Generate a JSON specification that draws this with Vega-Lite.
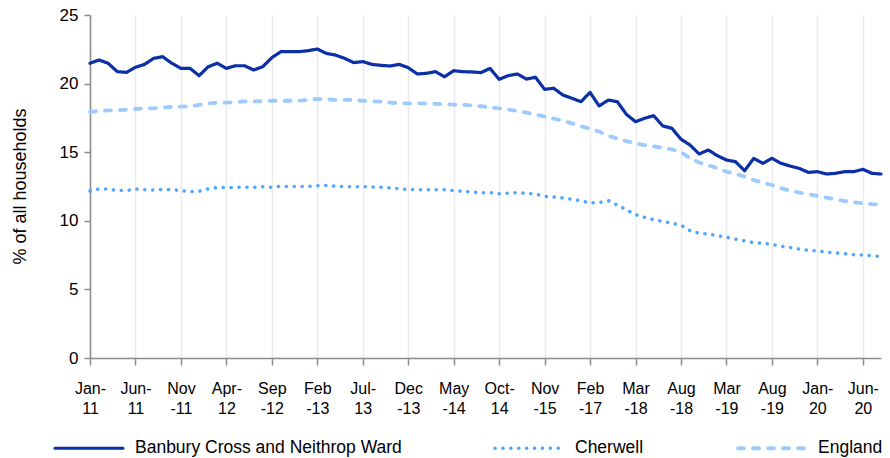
{
  "$schema": "https://vega.github.io/schema/vega-lite/v6.json",
  "width": 791,
  "height": 343,
  "autosize": "none",
  "padding": {"left": 90, "top": 15, "right": 9, "bottom": 100},
  "background": "white",
  "config": {
    "view": {"stroke": null},
    "font": "Liberation Sans",
    "axis": {"labelFont": "Liberation Sans", "titleFont": "Liberation Sans", "labelColor": "#000000", "titleColor": "#000000"}
  },
  "data": {
    "values": [
      {"i":0,"Banbury Cross and Neithrop Ward":21.48,"Cherwell":12.17,"England":17.95},
      {"i":1,"Banbury Cross and Neithrop Ward":21.72,"Cherwell":12.32,"England":18.0},
      {"i":2,"Banbury Cross and Neithrop Ward":21.48,"Cherwell":12.32,"England":18.05},
      {"i":3,"Banbury Cross and Neithrop Ward":20.87,"Cherwell":12.2,"England":18.05},
      {"i":4,"Banbury Cross and Neithrop Ward":20.82,"Cherwell":12.2,"England":18.1},
      {"i":5,"Banbury Cross and Neithrop Ward":21.19,"Cherwell":12.32,"England":18.15},
      {"i":6,"Banbury Cross and Neithrop Ward":21.4,"Cherwell":12.27,"England":18.2},
      {"i":7,"Banbury Cross and Neithrop Ward":21.84,"Cherwell":12.25,"England":18.2},
      {"i":8,"Banbury Cross and Neithrop Ward":21.96,"Cherwell":12.28,"England":18.25},
      {"i":9,"Banbury Cross and Neithrop Ward":21.48,"Cherwell":12.27,"England":18.3},
      {"i":10,"Banbury Cross and Neithrop Ward":21.11,"Cherwell":12.2,"England":18.32},
      {"i":11,"Banbury Cross and Neithrop Ward":21.11,"Cherwell":12.12,"England":18.35},
      {"i":12,"Banbury Cross and Neithrop Ward":20.58,"Cherwell":12.15,"England":18.45},
      {"i":13,"Banbury Cross and Neithrop Ward":21.23,"Cherwell":12.33,"England":18.55},
      {"i":14,"Banbury Cross and Neithrop Ward":21.48,"Cherwell":12.43,"England":18.6},
      {"i":15,"Banbury Cross and Neithrop Ward":21.11,"Cherwell":12.43,"England":18.62},
      {"i":16,"Banbury Cross and Neithrop Ward":21.3,"Cherwell":12.44,"England":18.65},
      {"i":17,"Banbury Cross and Neithrop Ward":21.3,"Cherwell":12.44,"England":18.7},
      {"i":18,"Banbury Cross and Neithrop Ward":20.99,"Cherwell":12.45,"England":18.7},
      {"i":19,"Banbury Cross and Neithrop Ward":21.23,"Cherwell":12.48,"England":18.72},
      {"i":20,"Banbury Cross and Neithrop Ward":21.89,"Cherwell":12.45,"England":18.75},
      {"i":21,"Banbury Cross and Neithrop Ward":22.33,"Cherwell":12.52,"England":18.75},
      {"i":22,"Banbury Cross and Neithrop Ward":22.33,"Cherwell":12.5,"England":18.75},
      {"i":23,"Banbury Cross and Neithrop Ward":22.33,"Cherwell":12.5,"England":18.75},
      {"i":24,"Banbury Cross and Neithrop Ward":22.4,"Cherwell":12.5,"England":18.82},
      {"i":25,"Banbury Cross and Neithrop Ward":22.52,"Cherwell":12.55,"England":18.88},
      {"i":26,"Banbury Cross and Neithrop Ward":22.2,"Cherwell":12.58,"England":18.85},
      {"i":27,"Banbury Cross and Neithrop Ward":22.08,"Cherwell":12.52,"England":18.82},
      {"i":28,"Banbury Cross and Neithrop Ward":21.84,"Cherwell":12.49,"England":18.82},
      {"i":29,"Banbury Cross and Neithrop Ward":21.53,"Cherwell":12.49,"England":18.8},
      {"i":30,"Banbury Cross and Neithrop Ward":21.6,"Cherwell":12.49,"England":18.75},
      {"i":31,"Banbury Cross and Neithrop Ward":21.4,"Cherwell":12.47,"England":18.72},
      {"i":32,"Banbury Cross and Neithrop Ward":21.33,"Cherwell":12.45,"England":18.68},
      {"i":33,"Banbury Cross and Neithrop Ward":21.28,"Cherwell":12.4,"England":18.62},
      {"i":34,"Banbury Cross and Neithrop Ward":21.4,"Cherwell":12.35,"England":18.56},
      {"i":35,"Banbury Cross and Neithrop Ward":21.16,"Cherwell":12.28,"England":18.56},
      {"i":36,"Banbury Cross and Neithrop Ward":20.7,"Cherwell":12.27,"England":18.56},
      {"i":37,"Banbury Cross and Neithrop Ward":20.75,"Cherwell":12.27,"England":18.56},
      {"i":38,"Banbury Cross and Neithrop Ward":20.87,"Cherwell":12.27,"England":18.52},
      {"i":39,"Banbury Cross and Neithrop Ward":20.5,"Cherwell":12.26,"England":18.49},
      {"i":40,"Banbury Cross and Neithrop Ward":20.94,"Cherwell":12.2,"England":18.47},
      {"i":41,"Banbury Cross and Neithrop Ward":20.87,"Cherwell":12.15,"England":18.45},
      {"i":42,"Banbury Cross and Neithrop Ward":20.85,"Cherwell":12.1,"England":18.4},
      {"i":43,"Banbury Cross and Neithrop Ward":20.8,"Cherwell":12.05,"England":18.35},
      {"i":44,"Banbury Cross and Neithrop Ward":21.11,"Cherwell":12.05,"England":18.27},
      {"i":45,"Banbury Cross and Neithrop Ward":20.31,"Cherwell":11.97,"England":18.2},
      {"i":46,"Banbury Cross and Neithrop Ward":20.58,"Cherwell":12.02,"England":18.12},
      {"i":47,"Banbury Cross and Neithrop Ward":20.7,"Cherwell":12.05,"England":18.0},
      {"i":48,"Banbury Cross and Neithrop Ward":20.33,"Cherwell":12.0,"England":17.88},
      {"i":49,"Banbury Cross and Neithrop Ward":20.46,"Cherwell":11.95,"England":17.75},
      {"i":50,"Banbury Cross and Neithrop Ward":19.58,"Cherwell":11.78,"England":17.6},
      {"i":51,"Banbury Cross and Neithrop Ward":19.66,"Cherwell":11.73,"England":17.45},
      {"i":52,"Banbury Cross and Neithrop Ward":19.17,"Cherwell":11.67,"England":17.3},
      {"i":53,"Banbury Cross and Neithrop Ward":18.93,"Cherwell":11.57,"England":17.1},
      {"i":54,"Banbury Cross and Neithrop Ward":18.68,"Cherwell":11.45,"England":16.9},
      {"i":55,"Banbury Cross and Neithrop Ward":19.36,"Cherwell":11.3,"England":16.7},
      {"i":56,"Banbury Cross and Neithrop Ward":18.37,"Cherwell":11.33,"England":16.5},
      {"i":57,"Banbury Cross and Neithrop Ward":18.8,"Cherwell":11.47,"England":16.2},
      {"i":58,"Banbury Cross and Neithrop Ward":18.68,"Cherwell":11.15,"England":16.0},
      {"i":59,"Banbury Cross and Neithrop Ward":17.76,"Cherwell":10.8,"England":15.8},
      {"i":60,"Banbury Cross and Neithrop Ward":17.22,"Cherwell":10.45,"England":15.65},
      {"i":61,"Banbury Cross and Neithrop Ward":17.47,"Cherwell":10.25,"England":15.52},
      {"i":62,"Banbury Cross and Neithrop Ward":17.66,"Cherwell":10.08,"England":15.42},
      {"i":63,"Banbury Cross and Neithrop Ward":16.91,"Cherwell":9.95,"England":15.33},
      {"i":64,"Banbury Cross and Neithrop Ward":16.74,"Cherwell":9.82,"England":15.2},
      {"i":65,"Banbury Cross and Neithrop Ward":15.95,"Cherwell":9.68,"England":15.0},
      {"i":66,"Banbury Cross and Neithrop Ward":15.52,"Cherwell":9.28,"England":14.55},
      {"i":67,"Banbury Cross and Neithrop Ward":14.87,"Cherwell":9.1,"England":14.24},
      {"i":68,"Banbury Cross and Neithrop Ward":15.16,"Cherwell":9.03,"England":14.07},
      {"i":69,"Banbury Cross and Neithrop Ward":14.75,"Cherwell":8.92,"England":13.82},
      {"i":70,"Banbury Cross and Neithrop Ward":14.43,"Cherwell":8.8,"England":13.58},
      {"i":71,"Banbury Cross and Neithrop Ward":14.31,"Cherwell":8.66,"England":13.41},
      {"i":72,"Banbury Cross and Neithrop Ward":13.65,"Cherwell":8.54,"England":13.21},
      {"i":73,"Banbury Cross and Neithrop Ward":14.55,"Cherwell":8.41,"England":12.97},
      {"i":74,"Banbury Cross and Neithrop Ward":14.19,"Cherwell":8.36,"England":12.78},
      {"i":75,"Banbury Cross and Neithrop Ward":14.55,"Cherwell":8.28,"England":12.61},
      {"i":76,"Banbury Cross and Neithrop Ward":14.19,"Cherwell":8.15,"England":12.37},
      {"i":77,"Banbury Cross and Neithrop Ward":13.99,"Cherwell":8.05,"England":12.2},
      {"i":78,"Banbury Cross and Neithrop Ward":13.82,"Cherwell":7.94,"England":12.05},
      {"i":79,"Banbury Cross and Neithrop Ward":13.53,"Cherwell":7.85,"England":11.95},
      {"i":80,"Banbury Cross and Neithrop Ward":13.58,"Cherwell":7.8,"England":11.81},
      {"i":81,"Banbury Cross and Neithrop Ward":13.41,"Cherwell":7.72,"England":11.69},
      {"i":82,"Banbury Cross and Neithrop Ward":13.46,"Cherwell":7.66,"England":11.57},
      {"i":83,"Banbury Cross and Neithrop Ward":13.58,"Cherwell":7.6,"England":11.44},
      {"i":84,"Banbury Cross and Neithrop Ward":13.58,"Cherwell":7.53,"England":11.35},
      {"i":85,"Banbury Cross and Neithrop Ward":13.75,"Cherwell":7.5,"England":11.28},
      {"i":86,"Banbury Cross and Neithrop Ward":13.46,"Cherwell":7.46,"England":11.22},
      {"i":87,"Banbury Cross and Neithrop Ward":13.41,"Cherwell":7.39,"England":11.18}
    ]
  },
  "transform": [
    {"fold": ["Banbury Cross and Neithrop Ward", "Cherwell", "England"], "as": ["series", "value"]}
  ],
  "mark": {"type": "line", "strokeCap": "round", "strokeJoin": "round"},
  "encoding": {
    "x": {
      "field": "i",
      "type": "quantitative",
      "scale": {"domain": [0, 87], "nice": false, "zero": false},
      "axis": {
        "title": null,
        "values": [0,5,10,15,20,25,30,35,40,45,50,55,60,65,70,75,80,85],
        "labelExpr": "[['Jan-','11'],['Jun-','11'],['Nov','-11'],['Apr-','12'],['Sep','-12'],['Feb','-13'],['Jul-','13'],['Dec','-13'],['May','-14'],['Oct-','14'],['Nov','-15'],['Feb','-17'],['Mar','-18'],['Aug','-18'],['Mar','-19'],['Aug','-19'],['Jan-','20'],['Jun-','20']][round(datum.value/5)]",
        "labelFontSize": 16,
        "labelLineHeight": 20,
        "labelPadding": 15,
        "labelBaseline": "top",
        "labelFlush": false,
        "labelOverlap": false,
        "tickSize": 7,
        "tickColor": "#8c8c8c",
        "domainColor": "#8c8c8c",
        "domainWidth": 1.5,
        "tickWidth": 1.5,
        "grid": true,
        "gridColor": "#ebebeb",
        "gridWidth": 1.5
      }
    },
    "y": {
      "field": "value",
      "type": "quantitative",
      "scale": {"domain": [0, 25], "nice": false},
      "axis": {
        "title": "% of all households",
        "titleFontSize": 18,
        "titleFontWeight": "normal",
        "titleX": -70,
        "titleY": 171,
        "titleBaseline": "middle",
        "titleAngle": -90,
        "titleAlign": "center",
        "values": [0,5,10,15,20,25],
        "labelFontSize": 17,
        "labelPadding": 6,
        "tickSize": 6,
        "tickColor": "#8c8c8c",
        "domainColor": "#8c8c8c",
        "domainWidth": 1.5,
        "tickWidth": 1.5,
        "grid": false
      }
    },
    "color": {
      "field": "series",
      "type": "nominal",
      "scale": {
        "domain": ["Banbury Cross and Neithrop Ward", "Cherwell", "England"],
        "range": ["#0a2fa6", "#4ea6ff", "#9dcbfb"]
      },
      "legend": {
        "title": null,
        "orient": "none",
        "legendX": -37,
        "legendY": 397,
        "direction": "horizontal",
        "columns": 3,
        "columnPadding": 86,
        "symbolType": "stroke",
        "symbolSize": 4624,
        "symbolStrokeWidth": 1.8,
        "labelFontSize": 17.5,
        "labelFont": "Liberation Sans",
        "labelColor": "#000000",
        "labelOffset": 10,
        "labelLimit": 400,
        "encode": {"symbols": {"update": {"strokeCap": {"value": "round"}}}}
      }
    },
    "strokeDash": {
      "field": "series",
      "type": "nominal",
      "scale": {
        "domain": ["Banbury Cross and Neithrop Ward", "Cherwell", "England"],
        "range": [[1, 0], [0.1, 7.8], [6, 9]]
      },
      "legend": {
        "title": null,
        "orient": "none",
        "legendX": -37,
        "legendY": 397,
        "direction": "horizontal",
        "columns": 3,
        "columnPadding": 86,
        "symbolType": "stroke",
        "symbolSize": 4624,
        "symbolStrokeWidth": 1.8,
        "labelFontSize": 17.5,
        "labelFont": "Liberation Sans",
        "labelColor": "#000000",
        "labelOffset": 10,
        "labelLimit": 400,
        "encode": {"symbols": {"update": {"strokeCap": {"value": "round"}}}}
      }
    },
    "strokeWidth": {
      "field": "series",
      "type": "nominal",
      "scale": {
        "domain": ["Banbury Cross and Neithrop Ward", "Cherwell", "England"],
        "range": [3.2, 3.8, 4]
      },
      "legend": null
    }
  }
}
